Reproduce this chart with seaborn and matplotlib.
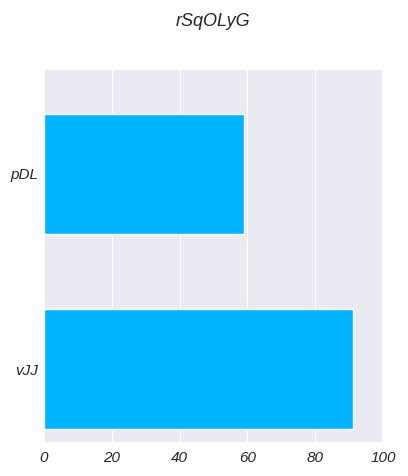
import matplotlib
matplotlib.use("Agg")
import matplotlib.pyplot as plt
import seaborn as sns
import pandas as pd

categories = ["pDL", "vJJ"]
values = [59.0, 91.1]
xticks = [0, 20, 40, 60, 80, 100]
title = "rSqOLyG"

sns.set_theme(style="darkgrid", rc={"grid.linewidth": 0.8})
plt.rcParams['font.family'] = ['Liberation Sans', 'DejaVu Sans']
plt.rcParams['font.style'] = 'italic'

df = pd.DataFrame({"cat": categories, "val": values})

fig = plt.figure(figsize=(4.08, 4.76), dpi=100)
ax = fig.add_axes([44/408, 1 - 443/476, (383-44)/408, (443-69)/476])
sns.barplot(data=df, y="cat", x="val", orient="h", color="#00b4ff",
            saturation=1, width=0.615, ax=ax)
ax.set_xlim(0, 100)
ax.set_xticks(xticks)
ax.set_xticklabels([str(t) for t in xticks], fontsize=11, style='italic')
ax.set_yticks(range(len(categories)))
ax.set_yticklabels(categories, fontsize=11, style='italic')
ax.set_ylim(1.379, -0.538)
ax.set_xlabel("")
ax.set_ylabel("")
ax.tick_params(axis='y', length=0, pad=4)
ax.tick_params(axis='x', length=0, pad=6)
fig.text(213.5/408, 1 - 22/476, title, fontsize=13, style='italic',
         ha='center', va='center')
fig.savefig("out.png", dpi=100)
